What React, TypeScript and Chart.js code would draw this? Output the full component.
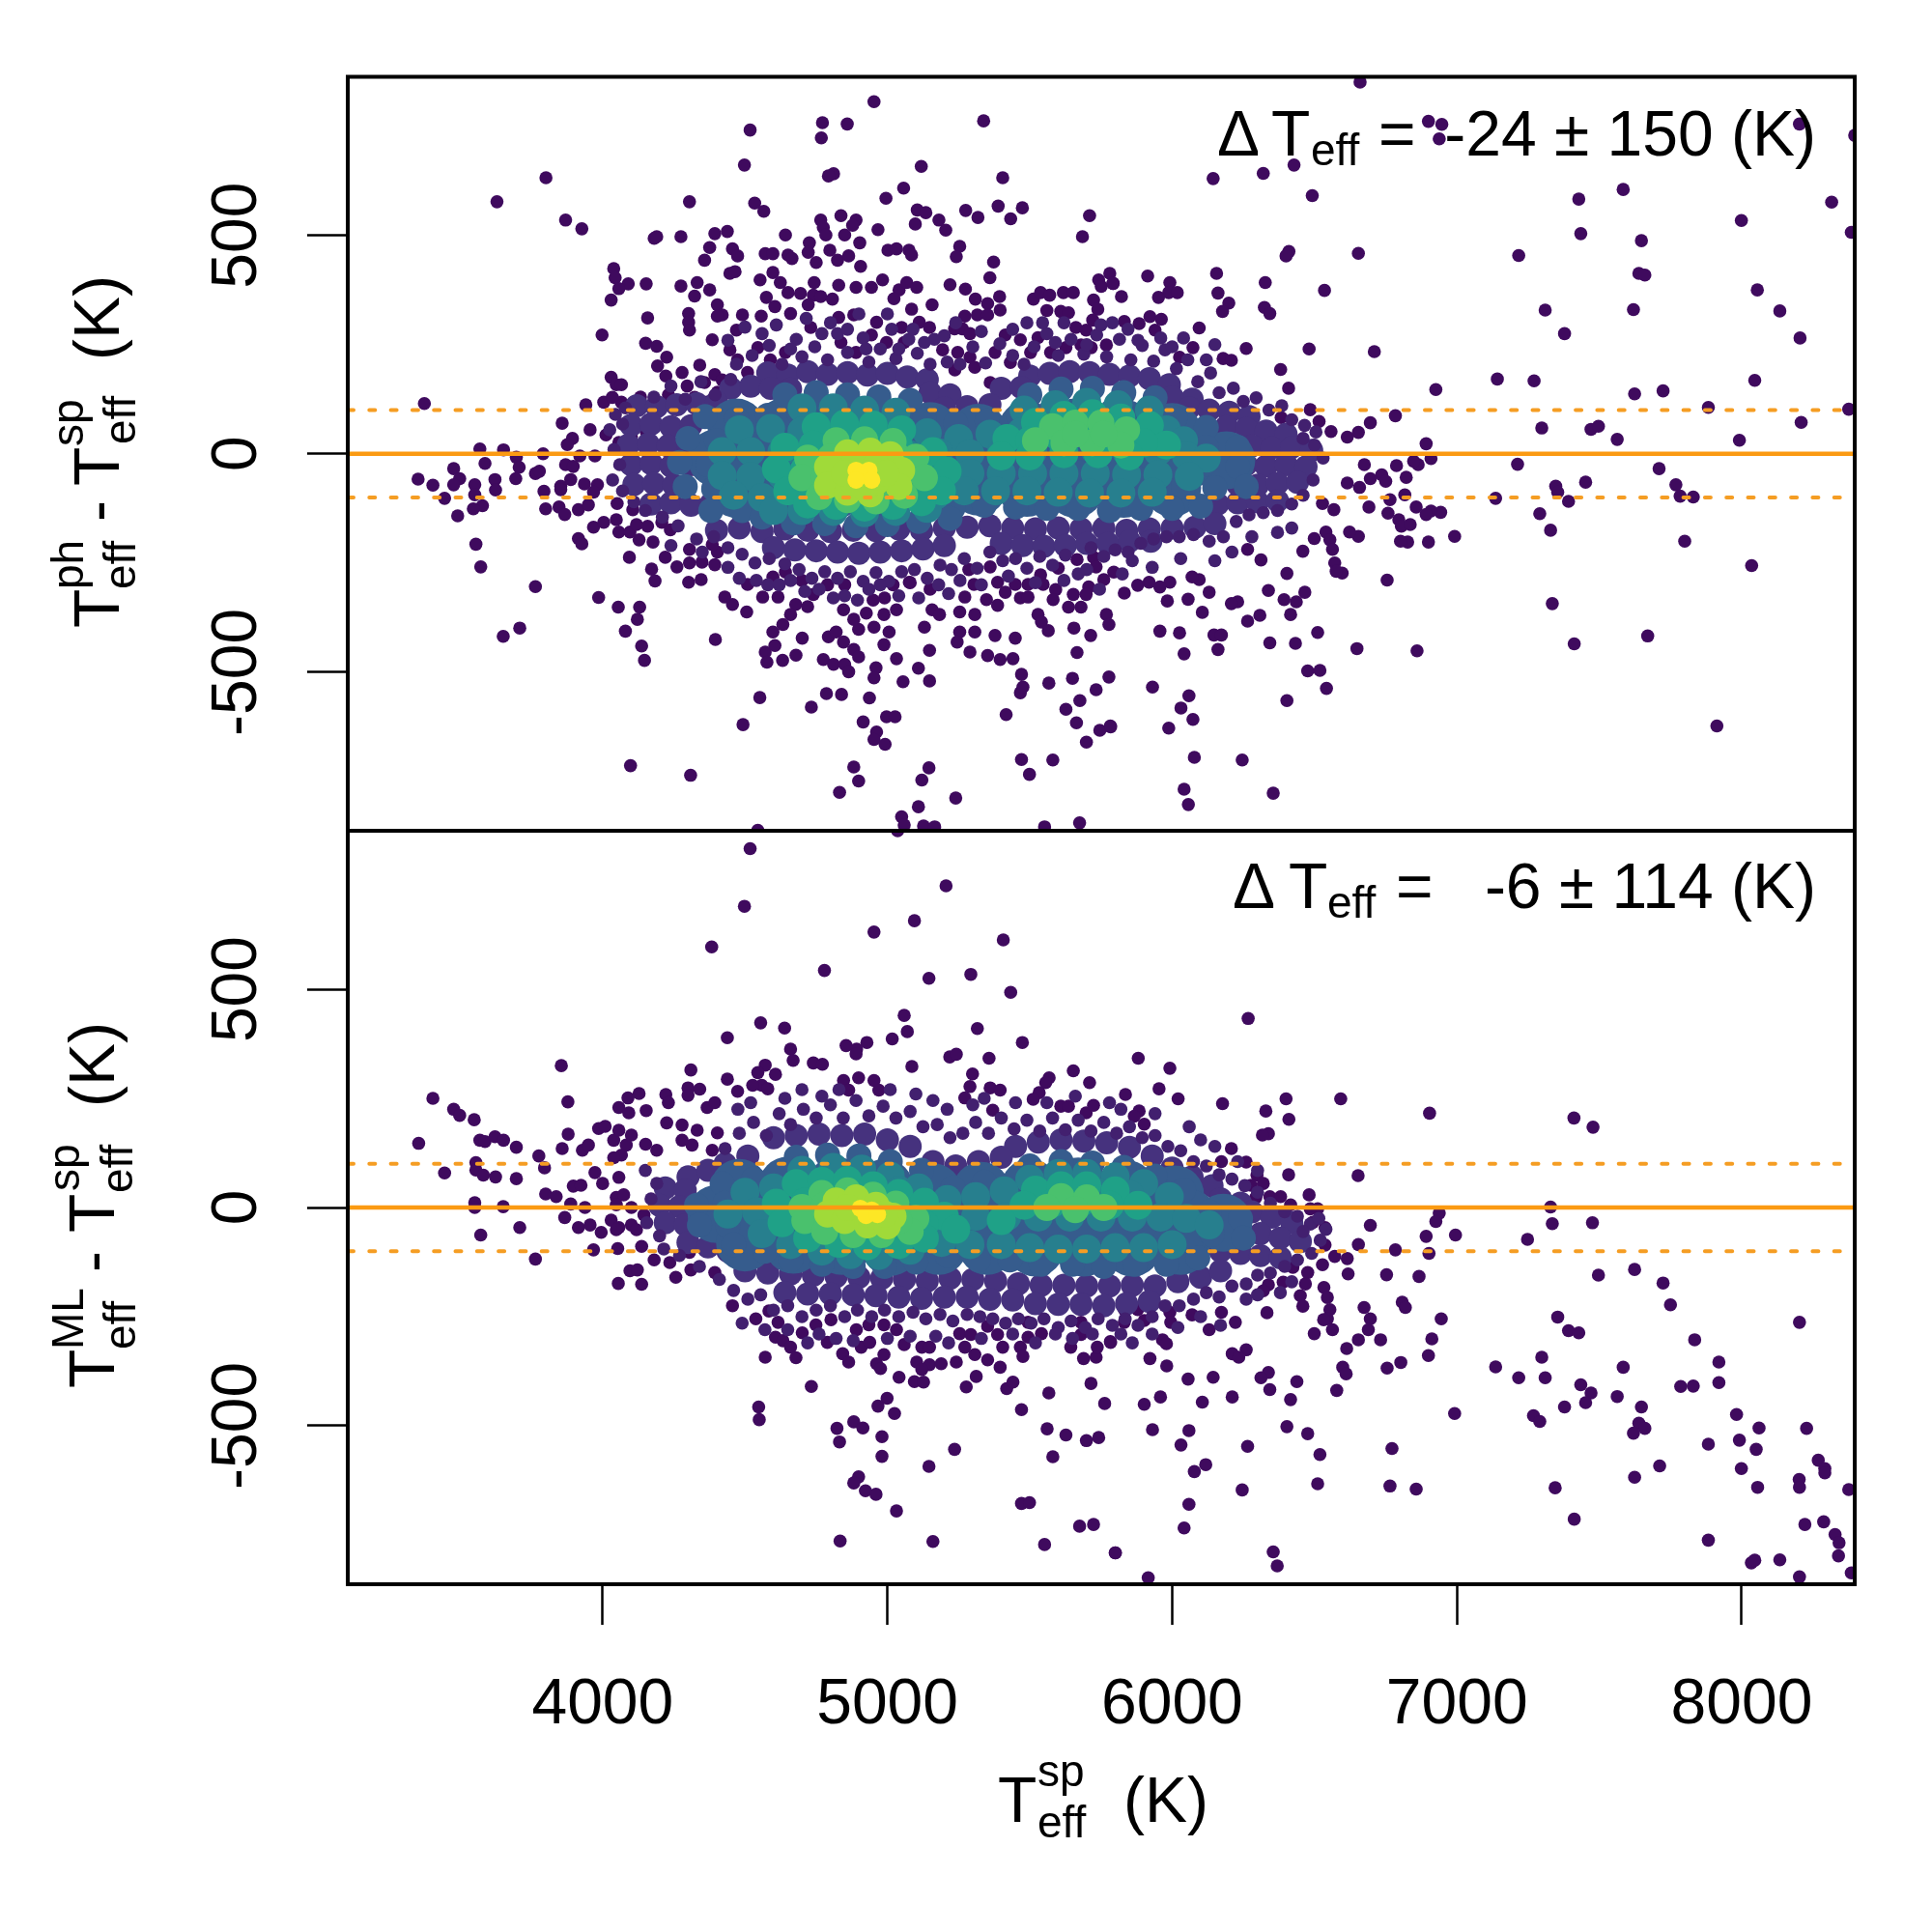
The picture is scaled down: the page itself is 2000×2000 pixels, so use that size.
import { useEffect, useRef } from "react";
import Chart from "chart.js/auto";

type Pt = [number, number];

const xTicks = [4000, 5000, 6000, 7000, 8000];
const yTicks = [-500, 0, 500];
const refLevels = [-100, 100];
const xMin = 3105;
const xMax = 8397;
const yLimit = 863;

// stars, outside the dense core
const topStars: Pt[] = [
  [4953,806],[5338,762],[4518,741],[4772,758],[4859,755],[4768,723],[4498,661],[5119,658],[4811,641],[4793,636],[3801,632],[5405,632],[5057,608],[3629,577],[4305,577],[4995,585],[4534,574],[4566,555],[5275,557],[5389,567],[5474,563],[5318,541],[5433,538],[5710,545],[5685,497],[3870,535],[3927,515],[5105,558],[5135,552],[5098,526],[5181,535],[5205,512],[4837,545],[4890,535],[4878,523],[4766,535],[4775,518],[4784,501],[4967,513],[4850,501],[4903,483],[4642,501],[4275,497],[4181,493],[4190,497],[4394,504],[4438,509],[4376,472],[4358,443],[4456,469],[4474,453],[4571,458],[4598,458],[4651,455],[4665,447],[4726,483],[4722,461],[4750,438],[4798,466],[4825,443],[4864,453],[4906,429],[5002,466],[5032,469],[5076,466],[5085,455],[5254,475],[5242,451],[5373,439],[4039,424],[4044,403],[4090,389],[4057,378],[4153,389],[4030,352],[4158,311],[3998,272],[4275,384],[4332,392],[4376,375],[4323,361],[4403,341],[4420,318],[4403,315],[4302,321],[4302,301],[4305,283],[4491,318],[4470,283],[4447,413],[4465,417],[4553,398],[4598,415],[4624,392],[4651,369],[4695,367],[4743,392],[4575,358],[4605,337],[4557,315],[4660,321],[4740,363],[4766,360],[4722,341],[4807,354],[4829,386],[4890,381],[4944,381],[4983,398],[5041,375],[5068,392],[5103,381],[5023,355],[5085,331],[5157,341],[5220,387],[5274,377],[5360,403],[5309,354],[5352,344],[5394,360],[5513,354],[5538,369],[5570,363],[5618,369],[5653,369],[5560,328],[5609,326],[5636,323],[5724,352],[5739,331],[5742,398],[5781,413],[5751,383],[5792,390],[5721,306],[5272,315],[5316,318],[5352,318],[5396,329],[5236,286],[5263,286],[5290,275],
  [6660,851],[6900,761],[6947,754],[6938,721],[8203,755],[8397,729],[6144,630],[6320,642],[6428,661],[6492,591],[7428,583],[7584,605],[8316,576],[7999,534],[8385,507],[7435,504],[7648,488],[7217,454],[6654,459],[6410,463],[6400,453],[7639,413],[7660,409],[6156,413],[5914,407],[6327,392],[6535,374],[5992,392],[5988,369],[6018,369],[5952,358],[5793,390],[5822,360],[6161,368],[6199,345],[6177,326],[6324,335],[6343,321],[8055,375],[7310,329],[7620,330],[8134,327],[7378,275],[8205,265],[6095,288],[5832,303],[5884,298],[5922,314],[5962,308],[5940,283],[6481,240],[6710,234],[6260,241],[6073,243],[6026,221],[6179,218],[6208,214],[6381,193],[7142,171],[7271,167],[8046,168],[6926,147],[6409,150],[7624,137],[7724,144],[7883,106],[8376,102],[6784,87],[8209,72],[7298,59],[7471,56],[7497,63],[7563,33],[7992,31],[6696,71],[6892,23],[6558,51],[6615,38],[6654,49],[6485,101],[6516,74],[6383,83],[7213,-24],[7710,-34],[7769,-71],[7452,-65],[7347,-74],[7354,-88],[7392,-109],[7136,-102],[7784,-97],[7830,-99],[7291,-137],[7329,-175],[7800,-200],[8035,-256],[7335,-343],[7412,-435],[7670,-417],[7913,-623],[6860,-451],[6755,-289],[6649,-446],[6992,-189],[6900,-202],[6827,-202],[6802,-200],[6943,-134],[6909,-131],[6892,-139],[6857,-122],[6765,-105],[6817,-94],[6758,-136],[6796,-151],[6805,-166],[6836,-162],[6864,-25],[6848,-17],[6909,-11],[6822,-54],[6788,-27],[6736,-48],[6750,-63],[6696,-57],[6675,-25],[6658,-77],[6615,-67],[6691,-122],[6568,-128],[6528,-114],[6540,-179],[6499,-194],[6554,-197],[6654,-189],[6623,-179],[6563,-219],[6459,-223],[6571,-250],[6597,-273],[6576,-269],[6403,-274],[6312,-243],[6265,-219],[6466,-317],[6436,-339],[6393,-334],[6416,-368],[6338,-313],[6308,-370],[6265,-383],[6230,-339],[6208,-343],[6130,-317],[6095,-288],[6070,-282],[6056,-333],[6106,-363],[5983,-337],[5992,-294],[5957,-305],[5919,-294],[5879,-301],[5832,-319],[5957,-406],[6026,-410],[6042,-458],[6147,-415],[6173,-415],[6161,-448],[6343,-433],[6433,-434],[6511,-409],[6476,-497],[6519,-496],[6542,-537],[6403,-565],[5931,-534],[6059,-554],[6031,-582],[6073,-608],[5988,-628],[6078,-695],[6246,-701],[6042,-768],[6057,-803],[6355,-777],[5784,-625],
  [3374,115],[3569,11],[3652,9],[3791,0],[3697,-8],[3707,-31],[3587,-22],[3477,-34],[3498,-57],[3477,-71],[3352,-58],[3404,-72],[3445,-102],[3491,-142],[3551,-71],[3551,-94],[3578,-119],[3546,-126],[3622,-59],[3624,-83],[3695,-57],[3764,-45],[3778,-40],[3794,-86],[3800,-126],[3847,-122],[3867,-139],[3853,-74],[3853,-82],[3858,70],[3894,35],[3876,21],[3870,-25],[3920,-5],[3897,-29],[3888,-59],[3973,-5],[3936,-69],[3982,-71],[3968,-88],[3915,-128],[3950,-117],[3555,-207],[3572,-259],[3764,-304],[3709,-399],[3651,-418],[3915,-194],[3927,-206],[3968,-168],[4004,-157],[4048,-151],[4057,-179],[4096,-179],[4128,-197],[4177,-202],[4051,-114],[4106,-128],[4119,-162],[4158,-166],[4208,-157],[4238,-174],[4094,-237],[4220,-237],[4172,-264],[4184,-291],[4261,-259],[4305,-250],[4349,-248],[4302,-294],[4346,-288],[4394,-254],[4403,-225],[4305,-219],[4385,-208],[3986,-329],[4055,-351],[4130,-351],[4122,-379],[4080,-406],[4137,-440],[4147,-473],[4396,-425],[4098,-714],[4309,-736],
  [4133,130],[4231,135],[4030,175],[4048,158],[4066,158],[3941,112],[4004,118],[4066,118],[4034,129],[3956,55],[4012,43],[4057,26],[4101,38],[4154,49],[4151,253],[4190,246],[4225,221],[4193,201],[4222,178],[4279,186],[4341,203],[4394,181],[4358,163],[4420,169],[4297,155],[4403,141],[4323,129],[4367,118],[4385,261],[4447,238],[4474,215],[4509,186],[4545,243],[4589,215],[4642,232],[4731,289],[4837,255],[4890,232],[4829,312],[4944,272],[4997,255],[4882,318],[4962,301],[5059,255],[5112,301],[5050,289],[5148,289],[5194,238],[5247,232],[5290,221],[5378,232],[5414,272],[5467,261],[5529,266],[5573,232],[5662,289],[5698,283],[5680,249],[5769,249],[5432,209],[5503,232],[5627,243],[5716,243],[5307,198],[5361,163],[5237,192],
  [4456,-345],[4429,-328],[4509,-299],[4562,-328],[4506,-362],[4598,-282],[4642,-271],[4616,-328],[4678,-345],[4740,-322],[4660,-368],[4633,-391],[4598,-408],[4701,-422],[4571,-454],[4577,-477],[4605,-439],[4632,-473],[4679,-461],[4552,-558],[4493,-620],[4733,-580],[4786,-549],[4839,-551],[4793,-419],[4820,-408],[4846,-431],[4882,-448],[4899,-465],[4775,-471],[4811,-482],[4850,-482],[4864,-499],[4960,-490],[4953,-513],[5032,-469],[5109,-491],[5148,-520],[5055,-522],[4937,-559],[4915,-614],[4997,-602],[5027,-602],[4962,-637],[4953,-654],[4992,-665],[4882,-717],[4899,-749],[4832,-775],[5146,-719],[5121,-747],[5109,-808],[5240,-788],[5050,-831],[5059,-850],[5127,-852],[5166,-854],[4545,-862],[5552,-854],[5675,-845],[5471,-700],[5499,-734],[5581,-701],[5417,-597],[5627,-585],[5664,-616],[5676,-565],[5699,-660],[5746,-633],[5783,-623],[5467,-547],[5476,-534],[5567,-525],[5650,-514],[5733,-540],[5778,-511],[5148,-450],[4953,-397],[4988,-437],[5006,-408],[4899,-402],[4882,-379],[4846,-357],[4926,-365],[4988,-368],[5032,-357],[5077,-294],[5130,-397],[5157,-357],[5183,-368],[5254,-362],[5254,-408],[5245,-431],[5290,-454],[5307,-368],[5307,-408],[5352,-462],[5396,-471],[5441,-469],[5378,-416],[5449,-422],[5471,-505],[5272,-328],[5348,-334],[5387,-347],[5286,-265],[5304,-299],[5361,-259],[5387,-294],[5414,-317],[5467,-330],[5494,-328],[5449,-299],[5494,-299],[5538,-277],[5547,-299],[5600,-262],[5591,-311],[5529,-368],[5541,-385],[5565,-405],[5655,-399],[5714,-416],[5666,-455],[5636,-351],[5680,-351],[5582,-334],[5653,-322],[5707,-305],[5698,-322],[5724,-237],[5733,-259],[5666,-242],[5760,-288],[5795,-271],[5769,-368],[5778,-391],[4790,-300],[4720,-350],[4990,-330],[5080,-295],[5150,-310],[5020,-300],[4950,-335],[4700,-290],[4850,-300],
];

// tinted stars hugging the upper core
const topFringe: Pt[] = [
  [4470,205],[4525,225],[4585,248],[4630,205],[4680,262],[4700,222],[4745,245],[4790,215],[4825,275],[4860,232],[4915,265],[4935,210],[4975,240],[5015,285],[5030,218],[5075,262],[5105,230],[5150,205],[5165,262],[5210,210],[5255,205],[5300,245],[5345,208],[5395,252],[5440,225],[5480,205],[5515,245],[5560,275],[5600,225],[5645,262],[5690,228],[5735,272],[5770,222],[5815,262],[5855,215],[5895,248],[5935,212],[5975,238],[6015,195],[6055,215],[6090,165],[6135,185],[6165,140],[6215,150],[6250,120],[6295,128],[6340,100],[6385,110],[6420,78],[6465,65],[6505,50],
  [4180,130],[4240,155],[4290,125],[4345,165],[4395,135],[4450,170],[4080,105],[4045,90],[4025,55],[4070,68],[4040,10],[4060,-25],[4035,-60],[4070,-85],[4110,-110],[4150,-130],[4210,-145],[4265,-165],[4330,-195],[4390,-190],[4440,-215],[4490,-230],[4535,-250],[4585,-240],[4640,-252],[4690,-265],[4735,-285],[4780,-270],[4825,-285],[4870,-270],[4915,-292],[4960,-272],[5005,-292],[5050,-270],[5095,-265],[5140,-285],[5185,-255],[5225,-265],[5270,-240],[5315,-262],[5360,-225],[5405,-245],[5450,-240],[5490,-262],[5535,-235],[5580,-255],[5625,-232],[5670,-275],[5715,-215],[5760,-235],[5800,-220],[5845,-225],[5890,-205],[5935,-195],[5980,-190],[6025,-190],[6075,-185],[6130,-200],[6180,-190],[6225,-155],[6270,-140],[6320,-135],[6370,-130],[6420,-115],[6460,-95],[6495,-60],[6530,-10],[6500,20],[6460,35],
  [4440,260],[4500,290],[4560,275],[4610,295],[4660,240],[4715,310],[4770,275],[4800,300],[4860,285],[4900,320],[4925,240],[5000,320],[5040,240],[5090,285],[5130,255],[5200,270],[5240,300],[5330,280],[5440,285],[5490,300],[5545,300],[5590,255],[5620,300],[5700,250],[5750,295],[5790,300],[5845,285],[5880,260],[5960,265],[6000,245],[6040,265],[6120,215],[6150,250],
  [4240,-210],[4350,-225],[4440,-260],[4480,-285],[4540,-290],[4580,-300],[4620,-300],[4660,-290],[4710,-315],[4760,-310],[4810,-330],[4850,-325],[4895,-335],[4935,-310],[4975,-300],[5040,-325],[5110,-330],[5180,-300],[5215,-320],[5255,-290],[5330,-300],[5425,-280],[5520,-295],[5620,-290],[5700,-265],[5745,-310],[5825,-275],[5860,-245],[5930,-260],[6030,-240],[6150,-245],[6210,-225],[6280,-190],[6370,-180],[6420,-170],
];

// stars, outside the dense core
const botStars: Pt[] = [
  [4518,822],[4498,690],[5036,863],[4383,597],[5206,737],[5095,657],[4953,631],[5407,613],[4779,543],[5146,525],[5293,534],[5433,493],[4555,423],[4438,389],[4639,411],[5059,440],[5070,403],[5017,386],[4928,378],[4855,371],[4892,363],[4890,352],[5316,410],[5474,378],[4660,363],[4669,337],[4740,331],[4772,328],[5219,345],[5242,351],[5357,342],[5086,323],[3855,325],[5299,306],[5290,277],[5653,313],[5710,286],[5568,297],[5556,286],[5533,263],[4571,326],[4545,309],[4607,305],[4559,280],[4580,272],[4527,280],[4438,294],[4474,266],[4310,315],[4300,274],[4341,271],[4300,257],[4222,259],[4231,240],[4128,261],[4089,251],[4057,229],[4092,217],[4153,222],[3404,250],[3477,225],[3498,211],[3549,201],[3878,242],[3354,147],[3569,154],[3587,151],[3622,162],[3652,154],[3697,138],[3879,168],[3858,135],[3929,131],[3950,143],[3776,118],[3796,91],[3555,103],[3555,86],[3581,74],[3624,70],[3697,66],[3445,79],[3551,11],[3551,0],[3651,2],[3572,-63],[3709,-46],[3764,-118],[3800,31],[3837,25],[3897,49],[3924,51],[3888,8],[3938,0],[3867,-23],[3915,-46],[3956,-40],[3968,-97],[3973,80],[4000,55],[3986,181],[4009,186],[4039,154],[4057,177],[4101,166],[4083,143],[4151,145],[4066,120],[4039,114],[4190,131],[4057,69],[4048,23],[4074,29],[4048,6],[4101,0],[4145,-17],[3995,-57],[4030,-29],[4057,-46],[4048,-51],[4101,-40],[4119,-51],[4053,-94],[4137,-89],[4181,-120],[4236,-126],[4305,-103],[4310,-143],[4257,-160],[4394,-149],[4096,-145],[4122,-143],[4055,-174],[4137,-176],[4456,-225],[4538,-255],[4584,-237],[4616,-263],[4607,-297],[4633,-305],[4660,-320],[4679,-344],[4701,-287],[4749,-269],[4802,-257],[4891,-280],[4935,-269],[4988,-269],[5032,-280],[4789,-309],[4843,-335],[4864,-354],[4908,-320],[4938,-309],[4962,-358],[4988,-337],[4976,-369],[5041,-389],[5059,-314],[5121,-320],[5148,-320],[5103,-354],[5148,-360],[5189,-358],[5121,-371],[5095,-399],[5127,-400],[5242,-354],[5277,-411],[5312,-387],[5254,-289],[5293,-291],[5272,-320],[5307,-337],[5352,-272],[5387,-291],[5405,-320],[5352,-349],[5396,-366],[5419,-415],[5441,-400],[5494,-263],[5494,-297],[5467,-320],[5476,-341],[5541,-289],[5644,-320],[5680,-291],[5689,-346],[5733,-343],[5783,-307],[5680,-263],[5737,-320],[5715,-403],[5567,-425],[5471,-463],[5763,-449],[5561,-507],[5627,-521],[5581,-571],[5699,-534],[5742,-527],[4733,-410],[4548,-457],[4550,-486],[4571,-343],[4999,-437],[4967,-455],[5025,-472],[4823,-506],[4832,-537],[4882,-491],[4914,-505],[4981,-525],[4981,-570],[5146,-593],[5236,-554],[4899,-617],[4882,-631],[4923,-649],[4960,-657],[5032,-695],[4834,-764],[5160,-765],[5471,-678],[5499,-676],[5675,-730],[5724,-726],[5552,-772],[5800,-791],
  [4846,291],[4899,297],[4953,291],[4970,269],[4864,269],[5272,251],[5361,274],[5396,269],[5370,223],[5512,248],[5609,232],[5636,232],[5698,217],[5724,234],[4225,194],[4279,189],[4332,177],[4403,171],[4367,229],[4394,240],[4314,143],[4279,154],[4385,131],
  [6267,433],[5881,342],[5992,319],[5954,272],[5836,259],[6021,249],[6177,238],[6400,249],[6592,249],[6329,221],[6410,202],[6904,216],[7411,205],[7478,184],[5884,221],[5867,209],[5902,191],[6338,169],[6317,166],[6208,135],[6173,105],[6260,104],[6653,73],[6409,75],[6298,74],[6277,51],[6320,55],[6294,23],[6251,15],[6343,25],[6381,25],[6481,29],[6416,6],[6485,-3],[6511,-3],[7329,1],[6938,-13],[6926,-32],[6696,-41],[6995,-63],[6892,-66],[7335,-37],[7476,-35],[7248,-73],[6902,-105],[6784,-97],[6654,-85],[6537,-46],[6494,-34],[6537,-86],[6571,-112],[6615,-117],[6528,-131],[6476,-149],[6424,-137],[6390,-171],[6338,-177],[6320,-191],[6468,-175],[6533,-183],[6618,-152],[6753,-154],[6867,-158],[7497,-155],[7624,-142],[7724,-173],[7750,-223],[6450,-202],[6459,-226],[6333,-241],[6545,-206],[6554,-234],[6545,-255],[6532,-257],[6674,-229],[6696,-255],[6689,-280],[6563,-280],[6499,-289],[6613,-323],[6654,-303],[6732,-303],[6808,-217],[6819,-229],[6945,-255],[6912,-301],[6900,-339],[6599,-366],[6611,-381],[6578,-419],[6755,-368],[6803,-355],[6992,-472],[7354,-251],[7392,-282],[7428,-287],[7298,-343],[7136,-365],[7217,-390],[7310,-390],[7584,-366],[7435,-406],[7471,-425],[7452,-447],[7378,-457],[7269,-477],[7291,-490],[7563,-433],[7648,-457],[7639,-494],[7660,-506],[7620,-517],[7712,-592],[7624,-618],[7345,-642],[7412,-714],[8203,-263],[7835,-303],[7920,-354],[7920,-401],[7786,-410],[7830,-409],[7982,-474],[7992,-533],[8061,-505],[8051,-554],[8228,-506],[7883,-542],[7999,-598],[8056,-641],[8269,-579],[8292,-598],[8292,-608],[8202,-623],[8203,-641],[8376,-646],[8222,-726],[8288,-720],[7883,-762],[8328,-749],[8342,-768],[8340,-798],[8034,-814],[8046,-808],[8134,-807],[8203,-846],[8385,-837],[6355,-789],[6369,-821],[5801,-791],[5916,-848],[6246,-647],[6511,-633],[6765,-638],[6857,-645],[6772,-552],[6519,-566],[6476,-518],[6403,-502],[6265,-547],[6118,-589],[6078,-605],[6031,-544],[6059,-511],[5931,-509],[6059,-680],[6042,-734],[6438,-399],[6416,-440],[6343,-417],[6338,-378],[6312,-390],[6211,-434],[6106,-446],[5959,-434],[5902,-451],[6056,-393],[6144,-389],[5981,-363],[5922,-346],[6260,-326],[6211,-335],[6234,-343],[6130,-280],[6222,-263],[6173,-240],[6070,-246],[5992,-240],[5995,-263],[5902,-259],[5966,-303],[5980,-312],[5832,-234],[5832,-263],[5879,-234],[5784,-309],
];

// tinted stars hugging the lower core
const botFringe: Pt[] = [
  [4430,135],[4480,170],[4530,195],[4575,165],[4620,215],[4660,190],[4705,225],[4750,205],[4800,235],[4845,205],[4890,245],[4935,210],[4985,232],[5030,205],[5080,220],[5125,185],[5175,190],[5220,160],[5265,170],[5310,195],[5355,170],[5400,205],[5445,180],[5490,200],[5535,175],[5580,205],[5625,178],[5670,200],[5715,175],[5760,195],[5805,170],[5850,185],[5895,160],[5940,165],[5985,140],[6030,130],[6075,105],[6120,95],[6165,75],[6210,65],[6255,50],[6300,35],[6345,10],[6395,-10],[6440,-20],[6485,-38],
  [4150,85],[4190,55],[4170,20],[4155,-35],[4200,-65],[4215,-95],[4270,-110],[4340,-135],[4410,-165],[4460,-190],[4510,-210],[4555,-200],[4600,-235],[4650,-225],[4700,-250],[4750,-235],[4800,-225],[4850,-250],[4895,-235],[4945,-250],[4990,-235],[5040,-250],[5090,-240],[5135,-255],[5185,-245],[5230,-260],[5280,-245],[5325,-250],[5370,-255],[5415,-265],[5460,-255],[5505,-265],[5550,-255],[5600,-275],[5645,-260],[5695,-275],[5740,-255],[5790,-270],[5835,-255],[5880,-270],[5930,-250],[5975,-225],[6025,-225],[6075,-210],[6120,-195],[6165,-205],[6210,-180],[6260,-175],[6300,-155],[6345,-150],[6395,-135],[6440,-120],[6490,-105],[6520,-75],[6460,-55],[6540,-50],[6515,-25],
  [4475,225],[4520,240],[4640,250],[4700,270],[4770,255],[4830,270],[5010,270],[5100,260],[5160,245],[5210,225],[5300,235],[5340,250],[5450,240],[5560,240],[5660,255],[5780,240],[5820,225],[5940,215],[6060,185],[6100,155],[6150,140],[6230,105],[6300,85],
  [4490,-265],[4570,-280],[4650,-280],[4720,-310],[4760,-290],[4820,-300],[4880,-305],[5000,-300],[5080,-295],[5170,-295],[5215,-310],[5330,-300],[5440,-290],[5520,-310],[5590,-290],[5650,-300],[5720,-290],[5820,-290],[5860,-310],[5930,-290],[6020,-275],[6100,-250],[6170,-270],[6260,-210],[6300,-200],[6380,-195],[6420,-170],
];

// density bands of the upper panel, low to high
const topBand0: Pt[] = [
  [4580,185],[4650,180],[4720,188],[4790,182],[4860,186],[4930,180],[5000,184],[5070,176],[5140,170],[5500,178],[5570,184],[5640,188],[5710,186],[5780,182],[5850,178],[5920,172],[5990,158],
  [4450,150],[4520,155],[4590,150],[4660,148],[5150,140],[5220,135],[5400,150],[5470,152],[6000,130],[6070,125],
  [4120,110],[4190,108],[4260,112],[4330,115],[4400,118],[5200,105],[5280,108],[5360,112],[6060,105],[6130,100],[6200,95],[6270,85],
  [4100,65],[4170,68],[4240,62],[4310,64],[6190,62],[6260,58],[6330,52],[6400,45],
  [4090,20],[4160,22],[4230,18],[4300,20],[6280,18],[6350,14],[6420,15],[6490,8],
  [4100,-25],[4170,-22],[4240,-28],[4310,-25],[6260,-25],[6330,-28],[6400,-25],[6470,-30],
  [4110,-70],[4180,-68],[4250,-72],[6230,-70],[6300,-72],[6370,-68],[6440,-65],
  [4170,-115],[4240,-112],[4310,-118],[4380,-115],[6160,-115],[6230,-112],[6300,-110],[6370,-108],
  [4400,-175],[4480,-170],[4560,-178],[4640,-172],[4720,-175],[4800,-178],[4880,-175],[4960,-176],[5040,-172],[5120,-175],[5200,-170],[5280,-168],[5360,-165],[5440,-170],[5520,-172],[5600,-170],[5680,-172],[5760,-170],[5840,-175],[5920,-172],[6000,-170],[6080,-168],[6150,-160],
  [4600,-215],[4675,-220],[4750,-222],[4825,-225],[4900,-228],[4975,-225],[5050,-222],[5125,-218],[5200,-210],[5400,-205],[5475,-210],[5550,-212],[5625,-210],[5700,-205],[5775,-205],[5850,-200],[5925,-200],
];
const topUnder: Pt[] = [
  [4470,60],[4640,62],[4810,60],[4980,58],[5150,52],[5320,48],[5490,55],[5660,60],[5830,58],[6000,50],
  [4400,-10],[4570,-12],[4740,-10],[4910,-12],[5080,-10],[5250,-12],[5420,-10],[5590,-8],[5760,-10],[5930,-10],[6070,-10],[6190,-15],
  [4470,-80],[4640,-85],[4810,-85],[4980,-85],[5150,-80],[5320,-75],[5490,-78],[5660,-80],[5830,-80],[6000,-78],
];
const topBand1: Pt[] = [
  [4640,135],[4750,140],[4860,135],[4970,130],[5080,122],[5500,135],[5610,148],[5720,150],[5830,140],[5940,128],
  [4360,85],[4470,80],[4580,88],[4690,92],[4800,94],[4910,90],[5020,84],[5130,78],[5240,70],[5350,75],[5460,88],[5570,95],[5680,100],[5790,98],[5900,92],[6010,82],[6120,60],
  [4300,35],[4400,30],[6120,15],[6230,15],
  [4270,-20],[4370,-25],[6110,-25],[6230,-30],
  [4290,-75],[4390,-80],[6040,-75],[6150,-78],[6260,-75],
  [4380,-130],[4490,-130],[5230,-125],[5340,-118],[5450,-122],[5560,-125],[5670,-125],[5780,-130],[5890,-125],[6000,-125],[6100,-120],
  [4560,-145],[4670,-158],[4780,-160],[4890,-165],[5000,-162],[5110,-155],[5220,-148],
];
const topBand2: Pt[] = [
  [4700,105],[4810,105],[4920,100],[5030,95],[5480,100],[5590,112],[5700,118],[5810,112],[5920,100],
  [4480,55],[4590,58],[4700,52],[4810,50],[4920,48],[5030,48],[5140,48],[5250,35],[5360,45],[5470,50],[5580,55],[5690,60],[5800,58],[5910,52],[5980,55],[6040,30],
  [4420,5],[4520,5],[4630,5],[4740,2],[4850,0],[4960,0],[5070,0],[5180,2],[5290,0],[5400,2],[5510,5],[5620,8],[5730,8],[5840,5],[5950,5],[6050,-5],[6120,-10],
  [4420,-50],[4520,-52],[4630,-50],[4740,-50],[4850,-50],[4960,-50],[5070,-50],[5180,-48],[5290,-45],[5400,-45],[5510,-45],[5620,-45],[5730,-45],[5840,-48],[5950,-48],[6060,-52],
  [4460,-95],[4560,-100],[5170,-95],[5270,-85],[5380,-85],[5490,-85],[5600,-88],[5710,-90],[5820,-90],[5930,-88],
  [4600,-130],[4700,-130],[4810,-132],[4920,-135],[5030,-132],[5140,-125],
];
const topBand3: Pt[] = [
  [4750,62],[4850,68],[4950,66],[5050,55],[5520,72],[5620,88],[5720,92],[5820,82],[5920,65],[5420,35],[5980,20],
  [4640,15],[4740,20],[4840,20],[4940,20],[5040,15],[5160,5],[5400,-5],[5500,30],[5600,40],[5700,45],[5800,40],[5900,25],[5500,-5],[5620,0],[5740,0],[5850,-5],
  [4610,-35],[4710,-35],[4810,-38],[4910,-38],[5010,-38],[5110,-38],[5210,-40],[4650,-85],[4750,-85],[4850,-88],[4950,-88],[5050,-85],[5190,-85],
  [4720,-115],[4820,-118],[4920,-122],[5020,-118],[5120,-110],
];
const topBand4: Pt[] = [
  [4820,30],[4920,32],[5020,28],[5580,62],[5660,70],[5750,70],[5840,55],[5520,30],[5620,25],[5720,25],[5820,20],[5660,45],[5760,45],
  [4720,-10],[4800,-8],[4880,-5],[4960,-5],[5040,-8],[5100,-8],[4700,-55],[4780,-52],[4860,-55],[4950,-55],[5040,-55],[5130,-55],[4760,-98],[4860,-105],[4960,-108],[5060,-95],
];
const topBand5: Pt[] = [
  [4860,2],[4940,6],[5010,-2],[4790,-30],[5050,-38],[4790,-72],[5040,-75],[4860,-88],[4940,-92],[4880,-25],[4960,-25],[4880,-65],[4960,-65],[4850,-45],[4920,-45],[4995,-45],[4920,-78],
];
const topBand6: Pt[] = [[4890,-38],[4935,-38],[4905,-50],[4945,-60],[4890,-60]];

// density bands of the lower panel, low to high
const botBand0: Pt[] = [
  [4600,160],[4680,165],[4760,168],[4840,165],[4920,168],[5000,155],[5080,140],[5450,140],[5530,150],[5610,155],[5690,152],[5770,148],[5850,138],[5930,118],
  [4430,100],[4510,118],[5160,105],[5240,95],[5320,105],[5400,115],[6000,90],[6070,70],[6140,50],
  [4300,70],[4370,85],[4220,45],[4290,40],[6170,20],[6240,10],
  [4200,5],[4270,2],[4340,8],[6280,-10],[6350,-22],[6420,-35],
  [4220,-35],[4290,-40],[6240,-50],[6310,-60],[6380,-70],[6450,-78],
  [4300,-80],[4370,-90],[4440,-100],[6170,-100],[6240,-105],[6310,-110],[6380,-115],
  [4500,-145],[4580,-150],[4660,-152],[4740,-155],[4820,-158],[4900,-160],[4980,-162],[5060,-165],[5140,-168],[5220,-162],[5300,-165],[5380,-168],[5460,-175],[5540,-178],[5620,-178],[5700,-180],[5780,-180],[5860,-178],[5940,-180],[6020,-170],[6100,-160],[6170,-145],
  [4640,-195],[4720,-198],[4800,-198],[4880,-200],[4960,-202],[5040,-205],[5120,-208],[5200,-205],[5280,-205],[5360,-210],[5440,-212],[5520,-220],[5600,-222],[5680,-222],[5760,-225],[5840,-220],[5920,-215],
];
const botUnder: Pt[] = [
  [4480,45],[4650,50],[4820,50],[4990,45],[5160,35],[5330,38],[5500,45],[5670,48],[5840,42],[6010,30],
  [4400,-15],[4570,-15],[4740,-15],[4910,-15],[5080,-15],[5250,-18],[5420,-18],[5590,-18],[5760,-18],[5930,-18],[6060,-25],[6180,-35],
  [4500,-80],[4670,-85],[4840,-88],[5010,-90],[5180,-88],[5350,-88],[5520,-92],[5690,-92],[5860,-92],[6030,-88],
];
const botBand1: Pt[] = [
  [4680,115],[4790,120],[4900,118],[5010,105],[5120,85],[5500,95],[5610,105],[5720,102],[5830,92],[5940,72],
  [4420,55],[4530,65],[5230,45],[5340,58],[6040,40],
  [4330,5],[4430,10],[6130,-10],[6240,-25],
  [4340,-40],[4440,-42],[6140,-62],[6250,-70],
  [4460,-85],[4570,-100],[5100,-125],[5210,-110],[5320,-120],[5430,-120],[5540,-130],[5650,-130],[5760,-135],[5870,-130],[5980,-130],[6090,-115],
  [4660,-120],[4770,-130],[4880,-135],[4990,-135],
];
const botBand2: Pt[] = [
  [4700,85],[4810,92],[4910,88],[5010,72],[5500,65],[5600,78],[5700,78],[5800,70],[5900,55],
  [4500,35],[4600,45],[4710,45],[4820,48],[4930,45],[5040,40],[5110,45],[5210,18],[5310,25],[5410,38],[5520,30],[5630,35],[5740,35],[5850,30],[5990,25],
  [4440,-15],[4540,-10],[4650,-12],[4760,-12],[4870,-12],[4980,-12],[5090,-15],[5200,-18],[5310,-20],[5420,-20],[5530,-22],[5640,-22],[5750,-22],[5860,-22],[5960,-22],[6050,-25],[6130,-40],
  [4560,-60],[4660,-85],[4770,-70],[4880,-70],[4990,-70],[5100,-75],[5190,-80],[5290,-85],[5400,-85],[5500,-92],[5600,-95],[5700,-95],[5800,-92],[5900,-92],[6000,-85],
  [4770,-100],[4870,-108],[4970,-110],[5080,-98],
];
const botBand3: Pt[] = [
  [4680,55],[4770,60],[4860,62],[4950,50],[5040,32],[5130,12],[5520,40],[5610,50],[5700,50],[5800,38],[5480,5],[5580,10],[5680,12],[5780,5],
  [4610,10],[4710,12],[4810,12],[4910,8],[5010,0],[5200,-20],[5880,5],[4630,-35],[4730,-35],[4830,-35],[4930,-35],[5030,-38],[5130,-38],[5240,-50],[5400,-30],
  [4720,-70],[4830,-82],[4930,-88],[5040,-85],[5130,-70],
];
const botBand4: Pt[] = [
  [4770,32],[4860,38],[4950,28],[5030,8],[5610,25],[5700,22],[5560,0],[5660,-5],[5760,0],
  [4700,0],[4780,5],[4860,8],[4710,-30],[4790,-28],[5100,-25],[4780,-55],[4880,-62],[4980,-62],[5080,-55],[4880,-30],[4970,-30],[5040,-30],
];
const botBand5: Pt[] = [
  [4820,15],[4890,22],[4960,5],[5020,-20],[4790,-15],[4850,-30],[4930,-40],[5000,-42],[4860,0],[4930,-15],[4990,-15],
];
const botBand6: Pt[] = [[4905,-2],[4945,-6],[4925,-18],[4965,-16]];

const bandColors = ["#46327e", "#365c8d", "#365c8d", "#277f8e", "#1fa187", "#4ac16d", "#a0da39", "#fde725"];
const bandRadii = [12, 30, 13, 15, 15, 14, 14, 9];
const starColor = "#3f0a5e";
const fringeColor = "#42206f";
const lineOrange = "#fb9a12";
const dashOrange = "#f59d23";

const FONT = '"Liberation Sans", Arial, sans-serif';

function put(ctx: CanvasRenderingContext2D, s: string, x: number, y: number, size: number, rot = false, align: CanvasTextAlign = "left") {
  ctx.save();
  ctx.translate(x, y);
  if (rot) ctx.rotate(-Math.PI / 2);
  ctx.font = `${size}px ${FONT}`;
  ctx.textAlign = align;
  ctx.textBaseline = "alphabetic";
  ctx.fillStyle = "#000";
  ctx.fillText(s, 0, 0);
  ctx.restore();
}

function datasets(stars: Pt[], fringe: Pt[], bands: Pt[][]) {
  const toXY = (pts: Pt[]) => pts.map(([x, y]) => ({ x, y }));
  const lines = [
    { data: [{ x: xMin, y: 0 }, { x: xMax, y: 0 }], showLine: true, pointRadius: 0, borderColor: lineOrange, borderWidth: 4.4 },
    ...refLevels.map((v) => ({
      data: [{ x: xMin, y: v }, { x: xMax, y: v }],
      showLine: true,
      pointRadius: 0,
      borderColor: dashOrange,
      borderWidth: 4,
      borderDash: [6, 16.3],
      borderCapStyle: "round",
    })),
  ];
  // the first dataset is painted last, so the densest band goes first
  const layers = bands
    .map((pts, i) => ({
      data: toXY(pts),
      pointRadius: bandRadii[i],
      backgroundColor: bandColors[i],
      borderWidth: 0,
    }))
    .reverse();
  const tinted = { data: toXY(fringe), pointRadius: 6.8, backgroundColor: fringeColor, borderWidth: 0 };
  const outer = { data: toXY(stars), pointRadius: 6.8, backgroundColor: starColor, borderWidth: 0 };
  return [...lines, ...layers.slice(0, -1), tinted, layers[layers.length - 1], outer];
}

function panelOptions(showX: boolean, padding: any) {
  return {
    responsive: false,
    animation: false,
    devicePixelRatio: 1,
    layout: { padding },
    plugins: { legend: { display: false }, tooltip: { enabled: false } },
    scales: {
      x: {
        type: "linear",
        min: xMin,
        max: xMax,
        border: { display: false },
        grid: { drawOnChartArea: false, drawTicks: showX, tickLength: 42, tickWidth: 2.5, tickColor: "#000" },
        ticks: { display: false },
        afterBuildTicks: (s: any) => {
          s.ticks = showX ? xTicks.map((value) => ({ value })) : [];
        },
        afterFit: (s: any) => {
          s.height = showX ? 42 : 0;
          s.paddingLeft = 0;
          s.paddingRight = 0;
        },
      },
      y: {
        type: "linear",
        min: -yLimit,
        max: yLimit,
        border: { display: false },
        grid: { drawOnChartArea: false, drawTicks: true, tickLength: 42, tickWidth: 2.5, tickColor: "#000" },
        ticks: { display: false },
        afterBuildTicks: (s: any) => {
          s.ticks = yTicks.map((value) => ({ value }));
        },
        afterFit: (s: any) => {
          s.width = 42;
          s.paddingTop = 0;
          s.paddingBottom = 0;
        },
      },
    },
  };
}

// frame and y tick labels, both panels
const framePlugin = {
  id: "frame",
  afterDraw(chart: any) {
    const { ctx, chartArea: a, scales } = chart;
    ctx.save();
    ctx.strokeStyle = "#000";
    ctx.lineWidth = 4;
    ctx.strokeRect(a.left, a.top, a.right - a.left, a.bottom - a.top);
    ctx.restore();
    yTicks.forEach((v) => put(ctx, String(v), 265, scales.y.getPixelForValue(v), 66, true, "center"));
  },
};

const topTextPlugin = {
  id: "topText",
  afterDraw(chart: any) {
    const c = chart.ctx;
    put(c, "Δ", 1260, 161, 66);
    put(c, "T", 1316, 161, 66);
    put(c, "eff", 1357, 171, 46);
    put(c, "=", 1427, 161, 66);
    put(c, "-24 ± 150 (K)", 1880, 161, 66, false, "right");
    put(c, "T", 123, 650, 66, true);
    put(c, "ph", 86, 610, 46, true);
    put(c, "eff", 140, 610, 46, true);
    put(c, "-", 123, 540, 66, true);
    put(c, "T", 123, 503, 66, true);
    put(c, "sp", 86, 462, 46, true);
    put(c, "eff", 140, 460, 46, true);
    put(c, "(K)", 123, 373, 66, true);
  },
};

// the lower canvas starts 820px down the page
const botTextPlugin = {
  id: "botText",
  afterDraw(chart: any) {
    const c = chart.ctx;
    const dy = -820;
    put(c, "Δ", 1276, 940 + dy, 66);
    put(c, "T", 1334, 940 + dy, 66);
    put(c, "eff", 1374, 950 + dy, 46);
    put(c, "=", 1445, 940 + dy, 66);
    put(c, "-6 ± 114 (K)", 1880, 940 + dy, 66, false, "right");
    put(c, "T", 118, 1437 + dy, 66, true);
    put(c, "ML", 86, 1397 + dy, 46, true);
    put(c, "eff", 140, 1397 + dy, 46, true);
    put(c, "-", 118, 1317 + dy, 66, true);
    put(c, "T", 118, 1276 + dy, 66, true);
    put(c, "sp", 82, 1233 + dy, 46, true);
    put(c, "eff", 137, 1235 + dy, 46, true);
    put(c, "(K)", 118, 1146 + dy, 66, true);
    xTicks.forEach((v) => put(c, String(v), chart.scales.x.getPixelForValue(v), 1784 + dy, 66, false, "center"));
    put(c, "T", 1033, 1886 + dy, 66);
    put(c, "sp", 1074, 1849 + dy, 46);
    put(c, "eff", 1074, 1902 + dy, 46);
    put(c, "(K)", 1163, 1886 + dy, 66);
  },
};

export default function App() {
  const topRef = useRef<HTMLCanvasElement>(null);
  const botRef = useRef<HTMLCanvasElement>(null);

  useEffect(() => {
    if (!topRef.current || !botRef.current) return;
    const top = new Chart(topRef.current, {
      type: "scatter",
      data: { datasets: datasets(topStars, topFringe, [topBand0, topUnder, topBand1, topBand2, topBand3, topBand4, topBand5, topBand6]) as any },
      options: panelOptions(false, { left: 318, right: 80, top: 79.5, bottom: 40 }) as any,
      plugins: [framePlugin, topTextPlugin],
    });
    const bot = new Chart(botRef.current, {
      type: "scatter",
      data: { datasets: datasets(botStars, botFringe, [botBand0, botUnder, botBand1, botBand2, botBand3, botBand4, botBand5, botBand6]) as any },
      options: panelOptions(true, { left: 318, right: 80, top: 40, bottom: 318 }) as any,
      plugins: [framePlugin, botTextPlugin],
    });
    return () => {
      top.destroy();
      bot.destroy();
    };
  }, []);

  return (
    <div style={{ position: "absolute", left: 0, top: 0, width: 2000, height: 2000, background: "#fff" }}>
      <canvas ref={topRef} width={2000} height={900} style={{ position: "absolute", left: 0, top: 0 }} />
      <canvas ref={botRef} width={2000} height={1180} style={{ position: "absolute", left: 0, top: 820 }} />
    </div>
  );
}
